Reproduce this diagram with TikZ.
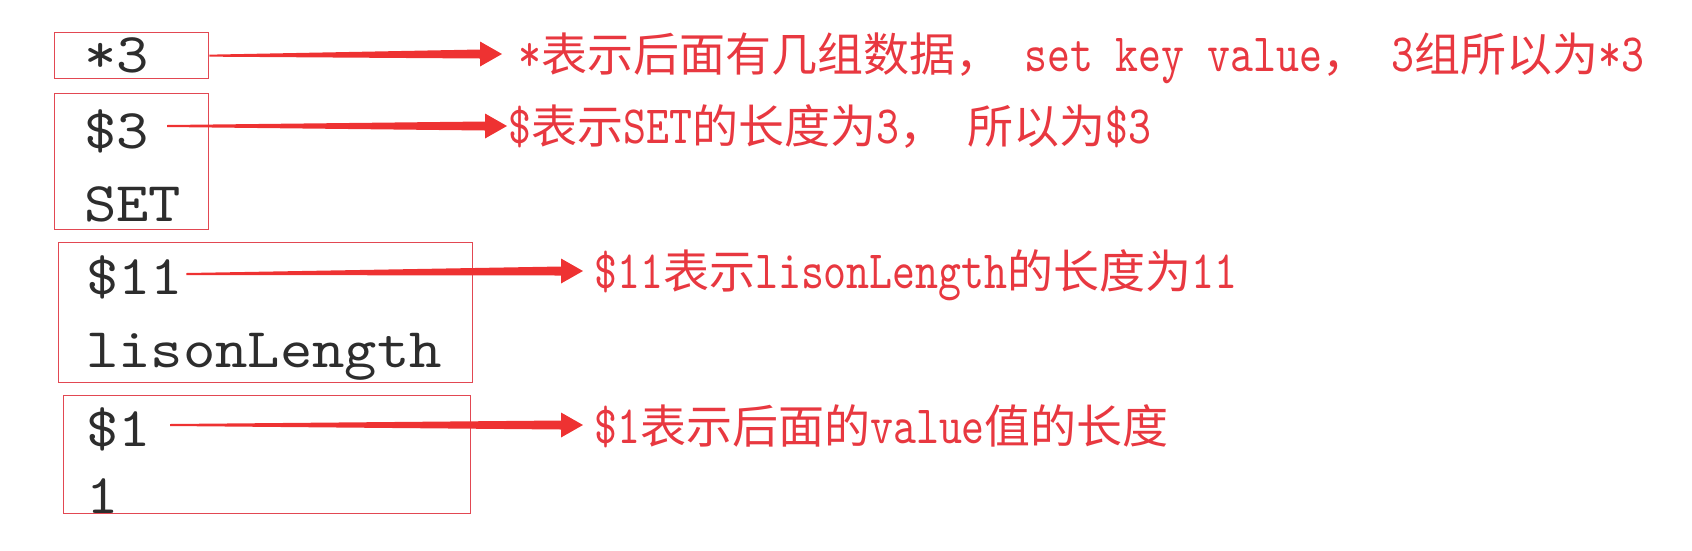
\documentclass[tikz,border=0pt]{standalone}
\usepackage{fontspec}
\usetikzlibrary{calc}
\newfontfamily\cjkf{Noto Sans CJK SC}
\newfontfamily\latf[FakeStretch=0.81,Scale=1.174]{lmmono10-regular.otf}
\newfontfamily\codef[FakeStretch=1.1]{lmmono10-regular.otf}
\definecolor{arrowred}{RGB}{238,50,50}
\definecolor{textred}{RGB}{232,56,64}
\definecolor{boxred}{RGB}{226,72,82}
\definecolor{codegray}{RGB}{45,45,45}
\newcommand\la[1]{{\latf #1}}
\newcommand\tarrow[2]{\fill[arrowred] let \p1=(#1), \p2=(#2) in
  (\x1,\y1+1) -- (\x2-22,\y2+4.5) -- (\x2-22,\y2+12.5) -- (\x2,\y2) --
  (\x2-22,\y2-12.5) -- (\x2-22,\y2-4.5) -- (\x1,\y1-1) -- cycle;}
\begin{document}
\begin{tikzpicture}[x=1pt,y=-1pt,
  box/.style={draw=boxred, line width=1.3pt, inner sep=0pt, anchor=north west},
  code/.style={font=\codef\fontsize{56}{60}\selectfont, text=codegray, inner sep=0pt, anchor=base west},
  lbl/.style={font=\cjkf\fontsize{46}{50}\selectfont, text=textred, inner sep=0pt, anchor=base west}]
\useasboundingbox (0,0) rectangle (1692,550);
% boxes
\node[box, minimum width=154pt, minimum height=46pt] (b1) at (54,32) {};
\node[box, minimum width=154pt, minimum height=136pt] (b2) at (54,93) {};
\node[box, minimum width=414pt, minimum height=140pt] (b3) at (58,242) {};
\node[box, minimum width=407pt, minimum height=118pt] (b4) at (63,395) {};
% code text
\node[code] (t1) at (84,72) {*3};
\node[code] (t2) at (84,148) {\$3};
\node[code] (t3) at (84,221) {SET};
\node[code] (t4) at (86,294) {\$11};
\node[code] (t5) at (86,367) {lisonLength};
\node[code] (t6) at (86,446) {\$1};
\node[code] (t7) at (86,513) {1};
% labels
\node[lbl] (l1) at (518,71) {\la{*}表示后面有几组数据，\la{\ set key value}，\la{\ 3}组所以为\la{*3}};
\node[lbl] (l2) at (508,143) {\la{\$}表示\la{SET}的长度为\la{3}，\la{\ }所以为\la{\$3}};
\node[lbl] (l3) at (594,288) {\la{\$11}表示\la{lisonLength}的长度为\la{11}};
\node[lbl] (l4) at (594,443) {\la{\$1}表示后面的\la{value}值的长度};
% arrow ends
\coordinate (s1) at (b1.east);
\coordinate (s2) at ([shift={(18pt,22pt)}]t2.base east);
\coordinate (s3) at ([shift={(3pt,20pt)}]t4.base east);
\coordinate (s4) at ([shift={(19pt,21pt)}]t6.base east);
\coordinate (e1) at ([shift={(-16pt,17pt)}]l1.base west);
\coordinate (e2) at ([shift={(-1pt,17pt)}]l2.base west);
\coordinate (e3) at ([shift={(-11pt,17pt)}]l3.base west);
\coordinate (e4) at ([shift={(-11pt,18pt)}]l4.base west);
\tarrow{s1}{e1}
\tarrow{s2}{e2}
\tarrow{s3}{e3}
\tarrow{s4}{e4}
\end{tikzpicture}
\end{document}
